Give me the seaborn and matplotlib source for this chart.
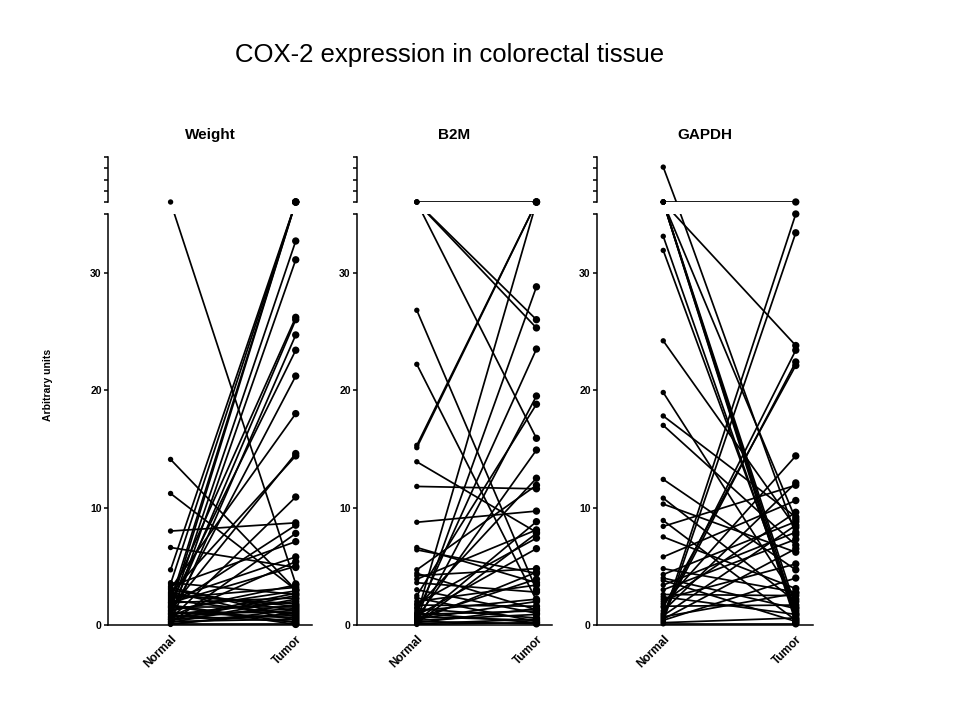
import pandas as pd
import matplotlib
matplotlib.use("Agg")
import matplotlib.pyplot as plt
import seaborn as sns

title = "COX-2 expression in colorectal tissue"
panels = ["Weight", "B2M", "GAPDH"]
tissues = ["Normal", "Tumor"]
ylabel = "Arbitrary units"

# paired samples, normal -> tumor. 36 and above = off scale (top segment of the broken axis)
weight_normal = [36, 14.1, 11.2, 8.0, 6.6, 4.7, 2.0, 1.5, 3.5, 1.2, 0.6, 2.4, 1.0, 0.3,
                 1.8, 0.9, 3.1, 1.4, 2.7, 0.5, 1.6, 0.2, 3.3, 2.2, 0.7, 1.9, 3.6, 3.0,
                 2.8, 2.5, 2.3, 2.1, 1.9, 1.7, 1.5, 1.3, 1.1, 1.0, 0.9, 0.8, 0.7, 0.6,
                 0.5, 0.4, 0.3, 0.2, 0.1, 0.1, 2.6, 1.2, 0.45, 3.2, 0.05, 1.6]
weight_tumor = [3.5, 3.0, 3.0, 8.7, 4.9, 36, 36, 36, 36, 32.7, 31.1, 26.2, 26.0, 24.7,
                23.4, 21.2, 18.0, 14.6, 14.4, 10.9, 8.5, 7.8, 7.1, 5.8, 5.4, 5.0, 2.6, 1.2,
                0.4, 1.8, 3.2, 0.9, 2.3, 0.2, 1.5, 2.9, 0.6, 1.1, 2.0, 0.3, 1.4, 2.7,
                0.8, 1.7, 0.5, 2.2, 1.0, 0.1, 1.6, 3.4, 2.5, 0.7, 1.3, 0.05]

b2m_normal = [36, 36, 36, 36, 26.8, 22.2, 15.3, 15.1, 13.9, 11.8, 8.75, 6.6, 6.4, 0.4,
              1.0, 0.2, 2.5, 0.6, 1.5, 4.7, 0.3, 3.9, 1.8, 0.8, 4.2, 3.6, 3.0, 2.3,
              2.0, 1.7, 1.4, 1.2, 1.0, 0.9, 0.7, 0.5, 0.4, 0.3, 0.2, 0.1, 0.05, 0.6,
              0.15, 0.35, 4.4, 0.8]
b2m_tumor = [36, 26.0, 25.3, 15.9, 3.0, 2.1, 36, 36, 7.9, 11.6, 9.7, 3.6, 4.4, 28.8,
             23.5, 19.5, 18.8, 14.9, 12.5, 11.9, 8.8, 8.1, 7.4, 6.5, 4.8, 2.8, 1.0, 0.3,
             3.4, 1.6, 0.6, 2.2, 0.2, 1.2, 0.4, 2.0, 0.9, 0.1, 1.4, 0.5, 0.2, 3.9,
             7.8, 4.5, 1.3, 36]

gapdh_normal = [39.1, 36, 36, 36, 36, 36, 36, 36, 33.1, 31.9, 24.2, 19.8, 17.8, 17.0,
                12.4, 10.8, 10.3, 8.9, 8.4, 7.5, 5.8, 4.8, 4.3, 3.8, 3.0, 2.6, 2.2, 1.8,
                1.5, 1.0, 0.6, 0.3, 0.9, 1.2, 0.4, 2.0, 0.2, 0.1, 1.6, 0.7, 2.4, 3.4,
                0.5, 4.0, 0.8]
gapdh_tumor = [7.7, 36, 0.5, 1.0, 0.2, 1.5, 23.8, 9.0, 0.8, 1.2, 8.3, 2.2, 9.2, 6.8,
               4.7, 2.0, 6.2, 0.4, 11.9, 3.1, 10.6, 2.8, 8.8, 0.3, 7.3, 2.5, 5.2, 14.4,
               22.1, 23.4, 35.0, 33.4, 22.4, 12.1, 4.0, 9.6, 0.6, 0.1, 1.7, 2.7, 0.9, 7.9,
               6.5, 1.4, 8.5]

data = {
    "Weight": (weight_normal, weight_tumor),
    "B2M": (b2m_normal, b2m_tumor),
    "GAPDH": (gapdh_normal, gapdh_tumor),
}


def pairs_frame(normal, tumor):
    n = len(normal)
    return pd.DataFrame({
        "sample": list(range(n)) * 2,
        "tissue": ["Normal"] * n + ["Tumor"] * n,
        "value": list(normal) + list(tumor),
    })


sns.set_style("ticks")
plt.rcParams["font.family"] = ["Liberation Sans", "DejaVu Sans"]
plt.rcParams["axes.linewidth"] = 1.1
for key in ["text.color", "axes.labelcolor", "xtick.color", "ytick.color", "axes.edgecolor"]:
    plt.rcParams[key] = "black"

fig = plt.figure(figsize=(9.6, 7.2), dpi=100)

# pixel boxes of each panel (left, width)
boxes = [(108, 204), (357, 195), (597, 216)]
sizes = {"Normal": 15, "Tumor": 28}

for name, (x0, w) in zip(panels, boxes):
    df = pairs_frame(*data[name])
    ax_lo = fig.add_axes([x0 / 960, 1 - 625 / 720, w / 960, 411 / 720])
    ax_hi = fig.add_axes([x0 / 960, 1 - 202 / 720, w / 960, 45 / 720], sharex=ax_lo)

    for ax in (ax_lo, ax_hi):
        sns.lineplot(data=df, x="tissue", y="value", units="sample", estimator=None,
                     color="black", lw=1.25, legend=False, ax=ax)

    lo = df[df["value"] <= 35]
    hi = df[df["value"] > 35]
    sns.scatterplot(data=lo, x="tissue", y="value", size="tissue", sizes=sizes,
                    color="black", linewidth=0, legend=False, clip_on=False,
                    zorder=3, ax=ax_lo)
    sns.scatterplot(data=hi, x="tissue", y="value", size="tissue", sizes=sizes,
                    color="black", linewidth=0, legend=False, clip_on=False,
                    zorder=3, ax=ax_hi)

    ax_lo.set_xlim(-0.5, 1.13)
    ax_lo.set_ylim(0, 35)
    ax_hi.set_ylim(36, 40)

    ax_lo.set_yticks([0, 10, 20, 30, 35])
    ax_lo.set_yticklabels(["0", "10", "20", "30", ""], fontweight="bold")
    ax_hi.set_yticks([36, 37, 38, 39, 40])
    ax_hi.set_yticklabels([])

    ax_lo.set_xticks([0, 1])
    ax_lo.set_xticklabels(tissues, rotation=45, ha="right", rotation_mode="anchor",
                          fontweight="bold", fontsize=8.5)
    ax_lo.tick_params(axis="x", length=0, pad=6)
    for ax in (ax_lo, ax_hi):
        ax.tick_params(axis="y", direction="out", length=3, width=1.1,
                       labelsize=7.5, pad=1.5)
        ax.set_xlabel("")
        ax.set_ylabel("")

    sns.despine(ax=ax_lo)
    sns.despine(ax=ax_hi, bottom=True)
    ax_hi.tick_params(axis="x", bottom=False, labelbottom=False)
    ax_hi.patch.set_alpha(0)

    fig.text((x0 + w / 2) / 960, 1 - 135 / 720, name, ha="center", va="center",
             fontsize=11, fontweight="bold")

fig.text(48 / 960, 1 - 385 / 720, ylabel, rotation=90, ha="center", va="center",
         fontsize=7.5, fontweight="bold")
fig.text(450 / 960, 1 - 55 / 720, title, ha="center", va="center", fontsize=18.5)

fig.savefig("out.png", dpi=100)
